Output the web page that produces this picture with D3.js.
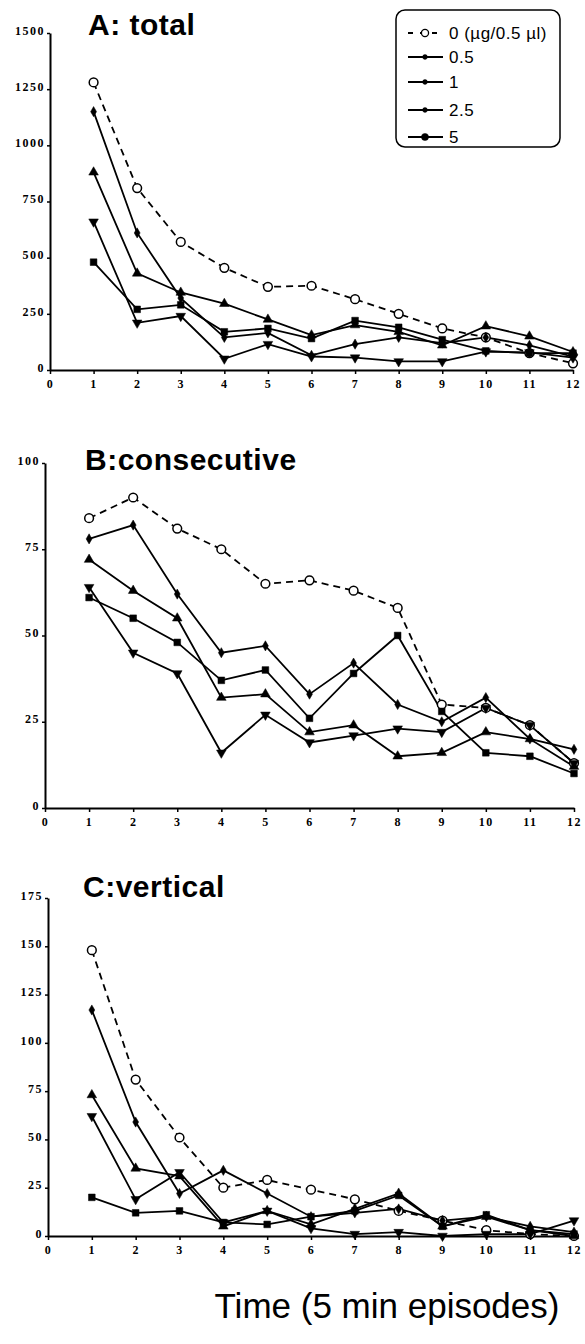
<!DOCTYPE html>
<meta charset="utf-8">
<script src="https://d3js.org/d3.v7.min.js"></script>
<style>
  body { margin: 0; background: #fff; }
  .tick text { font-family: "Liberation Serif", serif; font-weight: bold; font-size: 12px; letter-spacing: 1.5px; }
</style>
<body>
<div id="chart"></div>
<script>
// episodes on the x axis
const episodes = [1, 2, 3, 4, 5, 6, 7, 8, 9, 10, 11, 12];
const xTicks = [0, 1, 2, 3, 4, 5, 6, 7, 8, 9, 10, 11, 12];
const doseLabels = ["0 (\u00b5g/0.5 \u00b5l)", "0.5", "1", "2.5", "5"];

// A: total
const totalTicks = [0, 250, 500, 750, 1000, 1250, 1500];
const total0  = [1280, 810, 570, 455, 370, 375, 315, 250, 185, 145, 75, 30];
const total05 = [1150, 610, 320, 145, 165, 65, 115, 145, 120, 145, 110, 60];
const total1  = [880, 430, 345, 295, 225, 155, 200, 170, 110, 195, 150, 80];
const total25 = [660, 210, 240, 50, 115, 60, 55, 38, 38, 82, 78, 55];
const total5  = [480, 270, 290, 170, 185, 140, 220, 190, 135, 85, 75, 75];

// B: consecutive
const consTicks = [0, 25, 50, 75, 100];
const cons0  = [84, 90, 81, 75, 65, 66, 63, 58, 30, 29, 24, 13];
const cons05 = [78, 82, 62, 45, 47, 33, 42, 30, 25, 32, 20, 17];
const cons1  = [72, 63, 55, 32, 33, 22, 24, 15, 16, 22, 20, 12];
const cons25 = [64, 45, 39, 16, 27, 19, 21, 23, 22, 29, 24, 13];
const cons5  = [61, 55, 48, 37, 40, 26, 39, 50, 28, 16, 15, 10];

// C: vertical
const vertTicks = [0, 25, 50, 75, 100, 125, 150, 175];
const vert0  = [148, 81, 51, 25, 29, 24, 19, 13, 8, 3, 1, 0];
const vert05 = [117, 59, 22, 34, 22, 10, 12, 14, 8, 10, 5, 2];
const vert1  = [73, 35, 31, 5, 13, 6, 14, 22, 5, 10, 3, 0];
const vert25 = [62, 19, 33, 7, 13, 4, 1, 2, 0, 1, 1, 8];
const vert5  = [20, 12, 13, 7, 6, 10, 13, 21, 5, 11, 3, 1];

const svg = d3.select("#chart").append("svg")
    .attr("width", 585)
    .attr("height", 1344);

// marker per dose
const symbols = [
  {type: d3.symbolCircle, size: 60, fill: "#fff", rot: 0},
  {type: d3.symbolDiamond, size: 30, fill: "#000", rot: 0},
  {type: d3.symbolTriangle, size: 40, fill: "#000", rot: 0},
  {type: d3.symbolTriangle, size: 40, fill: "#000", rot: 180},
  {type: d3.symbolSquare, size: 45, fill: "#000", rot: 0}
];

const panels = [
  {title: "A: total", tx: 88, ty: 35, x0: 50, x1: 573, top: 33, bottom: 370, max: 1500,
   ticks: totalTicks, series: [total0, total05, total1, total25, total5]},
  {title: "B:consecutive", tx: 85, ty: 470, x0: 45, x1: 574, top: 463, bottom: 808, max: 100,
   ticks: consTicks, series: [cons0, cons05, cons1, cons25, cons5]},
  {title: "C:vertical", tx: 83, ty: 897, x0: 48, x1: 574, top: 898, bottom: 1236, max: 175,
   ticks: vertTicks, series: [vert0, vert05, vert1, vert25, vert5]}
];

panels.forEach(function(p) {
  const x = d3.scaleLinear().domain([0, 12]).range([p.x0, p.x1]);
  const y = d3.scaleLinear().domain([0, p.max]).range([p.bottom, p.top]);
  const g = svg.append("g");

  g.append("text")
    .attr("x", p.tx).attr("y", p.ty)
    .style("font-family", "Liberation Sans, Arial, sans-serif")
    .style("font-weight", "bold")
    .style("font-size", "30px")
    .style("letter-spacing", "0.5px")
    .text(p.title);

  const ya = g.append("g")
    .attr("transform", "translate(" + p.x0 + ",0)")
    .call(d3.axisLeft(y).tickValues(p.ticks).tickFormat(d3.format("d"))
      .tickSize(3).tickSizeOuter(0).tickPadding(2));
  ya.selectAll(".tick text").attr("dy", "0.1em");

  g.append("g")
    .attr("transform", "translate(0," + p.bottom + ")")
    .call(d3.axisBottom(x).tickValues(xTicks).tickSize(4).tickSizeOuter(0).tickPadding(5));

  g.selectAll(".domain").attr("stroke-width", 2);
  g.selectAll(".tick line").attr("stroke-width", 1.5);

  const line = d3.line()
    .x(function(d, i) { return x(episodes[i]); })
    .y(function(d) { return y(d); });

  p.series.forEach(function(s, k) {
    g.append("path")
      .datum(s)
      .attr("d", line)
      .attr("fill", "none")
      .attr("stroke", "#000")
      .attr("stroke-width", 1.8)
      .attr("stroke-dasharray", k === 0 ? "7,5" : null);
  });

  p.series.forEach(function(s, k) {
    const sym = symbols[k];
    g.selectAll(null)
      .data(s)
      .enter().append("path")
      .attr("transform", function(d, i) {
        return "translate(" + x(episodes[i]) + "," + y(d) + ") rotate(" + sym.rot + ")";
      })
      .attr("d", d3.symbol().type(sym.type).size(sym.size))
      .attr("fill", sym.fill)
      .attr("stroke", "#000")
      .attr("stroke-width", k === 0 ? 1.5 : 0.5);
  });
});

// legend
const leg = svg.append("g");
leg.append("rect")
  .attr("x", 396).attr("y", 10)
  .attr("width", 164).attr("height", 137)
  .attr("rx", 9)
  .attr("fill", "#fff")
  .attr("stroke", "#000")
  .attr("stroke-width", 1.5);

const legY = [33, 57, 82, 110, 137];
doseLabels.forEach(function(lab, k) {
  const cy = legY[k];
  leg.append("line")
    .attr("x1", 408).attr("x2", 443)
    .attr("y1", cy).attr("y2", cy)
    .attr("stroke", "#000")
    .attr("stroke-width", 1.8)
    .attr("stroke-dasharray", k === 0 ? "5,7" : null);
  const sym = symbols[k];
  leg.append("path")
    .attr("transform", "translate(425," + cy + ")")
    .attr("d", d3.symbol().type(d3.symbolCircle).size(k === 0 ? 40 : (k === 4 ? 40 : 18)))
    .attr("fill", sym.fill)
    .attr("stroke", "#000")
    .attr("stroke-width", k === 0 ? 1.3 : 0.5);
  leg.append("text")
    .attr("x", 449).attr("y", cy + 6)
    .style("font-family", "Liberation Sans, Arial, sans-serif")
    .style("font-size", "17px")
    .style("letter-spacing", "0.5px")
    .text(lab);
});

// x axis title
svg.append("text")
  .attr("x", 387).attr("y", 1318)
  .attr("text-anchor", "middle")
  .style("font-family", "Liberation Sans, Arial, sans-serif")
  .style("font-size", "35px")
  .text("Time (5 min episodes)");
</script>
</body>
